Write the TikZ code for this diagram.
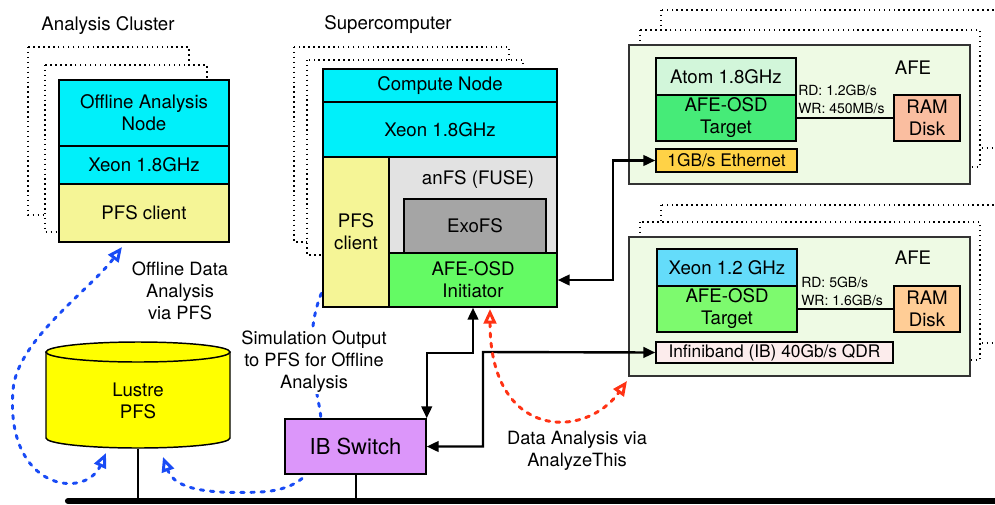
\documentclass[tikz,border=0pt]{standalone}
\usepackage{fontspec}
\setmainfont{TeX Gyre Heros}
\usetikzlibrary{arrows.meta}
\definecolor{cyanc}{RGB}{0,240,250}
\definecolor{pfsy}{RGB}{245,245,150}
\definecolor{anfsg}{RGB}{226,226,226}
\definecolor{exog}{RGB}{165,165,165}
\definecolor{initg}{RGB}{100,250,100}
\definecolor{ibv}{RGB}{220,150,250}
\definecolor{lusy}{RGB}{255,255,0}
\definecolor{afebg}{RGB}{238,250,228}
\definecolor{atomc}{RGB}{210,246,218}
\definecolor{tgta}{RGB}{70,235,120}
\definecolor{rama}{RGB}{250,190,160}
\definecolor{ethc}{RGB}{255,210,70}
\definecolor{xeonb}{RGB}{100,220,250}
\definecolor{tgtb}{RGB}{125,250,110}
\definecolor{ramb}{RGB}{255,205,150}
\definecolor{ibc}{RGB}{252,236,236}
\definecolor{myblue}{RGB}{25,75,245}
\definecolor{myred}{RGB}{255,50,20}
\newcommand\fsMain{\fontsize{14}{16.5}\selectfont}
\newcommand\fsLbl{\fontsize{13.7}{16.5}\selectfont}
\newcommand\fsMid{\fontsize{13}{15}\selectfont}
\newcommand\fsSmall{\fontsize{10.5}{13.5}\selectfont}
\newcommand\fsBig{\fontsize{16.5}{19}\selectfont}
\begin{document}
\begin{tikzpicture}[x=0.75pt,y=-0.75pt,
  box/.style={draw=black, line width=1.1pt, inner sep=0pt, align=center, font=\fsMain},
  wh/.style 2 args={minimum width=#1*0.75pt, minimum height=#2*0.75pt},
  dotbox/.style={draw=black, fill=white, line width=1pt, dash pattern=on 1.1pt off 2.6pt},
  afebox/.style={draw=black!80, line width=1.1pt, fill=afebg, inner sep=0pt},
  conn/.style={draw=black, line width=1.8pt, {Triangle[length=9pt,width=8pt]}-{Triangle[length=9pt,width=8pt]}},
  opentip/.style={Triangle[open,length=11pt,width=9.5pt,line width=1.8pt]},
  bluearr/.style={draw=myblue, line width=2.2pt, line cap=round, dash pattern=on 2.6pt off 5pt, {Triangle[open,length=11pt,width=9.5pt]}-{Triangle[open,length=11pt,width=9.5pt]}},
  bluedash/.style={draw=myblue, line width=2.2pt, line cap=round, dash pattern=on 2.6pt off 5pt, -{Triangle[open,length=11pt,width=9.5pt]}},
  redarr/.style={draw=myred, line width=2.2pt, line cap=round, dash pattern=on 3pt off 4.6pt, {Triangle[open,length=11pt,width=9.5pt]}-{Triangle[open,length=11pt,width=9.5pt]}},
  lbl/.style={align=center, font=\fsLbl, inner sep=1pt},
  wire/.style={draw=black, line width=1.5pt}
]
\useasboundingbox (0,0) rectangle (995,504);

% stacked dotted boxes
\begin{scope}
\clip (0,0) rectangle (995,504);
\draw[dotbox] (28,47) rectangle (189,215);
\draw[dotbox] (45,65) rectangle (207,232);
\draw[dotbox] (294,47) rectangle (509,242);
\draw[dotbox] (307,60) rectangle (523,255);
\draw[dotbox] (661,10) rectangle (1010,148);
\draw[dotbox] (640,30) rectangle (980,167);
\draw[dotbox] (661,205) rectangle (1010,343);
\draw[dotbox] (640,222) rectangle (980,360);
\end{scope}

% titles
\node[font=\fsMain] (acl) at (108,26) {Analysis Cluster};
\node[font=\fsMain] (scl) at (388,25) {Supercomputer};

% bottom bar and Lustre
\coordinate (barL) at (68,501);
\coordinate (barR) at (1000,501);

\fill[lusy] (46,352) -- (46,438) arc[start angle=180, end angle=360, x radius=69pt, y radius=7.5pt] -- (230,352) -- cycle;
\draw[line width=1.1pt] (46,352) -- (46,438) arc[start angle=180, end angle=360, x radius=69pt, y radius=7.5pt] -- (230,352);
\draw[line width=1.1pt, fill=lusy] (138,352) ellipse[x radius=69pt, y radius=7.5pt];
\node[align=center, font=\fsMain] (lustre) at (138,401) {Lustre\\PFS};
\coordinate (lbot) at (138,449);

% simulation output dashed path (behind boxes)
\coordinate (s0) at (330,275);
\coordinate (s1) at (163,457);
\draw[bluedash] (s0) .. controls (305,320) and (310,360) .. (320,410) .. controls (328,470) and (300,490) .. (260,492) .. controls (210,494) and (175,490) .. (s1);
\node[lbl, fill=white] (simlbl) at (314,362) {Simulation Output\\to PFS for Offline\\Analysis};

% Analysis cluster node
\node[box, fill=cyanc, wh={170}{66}] (oan) at (144,113) {Offline Analysis\\Node};
\node[box, fill=cyanc, wh={170}{38}] (xe1) at (144,165) {Xeon 1.8GHz};
\node[box, fill=pfsy, wh={170}{58}] (pfs1) at (144,213) {PFS client};

% Supercomputer node
\node[box, fill=cyanc, wh={234}{33}] (cn) at (440,85.5) {Compute Node};
\node[box, fill=cyanc, wh={234}{55}] (xe2) at (440,129.5) {Xeon 1.8GHz};
\node[box, fill=pfsy, wh={66}{150}] (pfs2) at (356,232) {PFS\\client};
\node[box, fill=anfsg, wh={168}{96}] (anfs) at (473,205) {};
\node[font=\fsMain] (anfst) at (478,180) {anFS (FUSE)};
\node[box, fill=exog, wh={142}{54}] (exo) at (475,226) {ExoFS};
\node[box, fill=initg, wh={168}{54}] (init) at (473,280) {AFE-OSD\\Initiator};

% AFE 1
\node[afebox, wh={341}{139}] (afe1) at (799.5,114.5) {};
\node[font=\fsMain] (afe1t) at (913,68) {AFE};
\node[box, fill=atomc, wh={140}{37}] (atom) at (726,76.5) {Atom 1.8GHz};
\node[box, fill=tgta, wh={140}{46}] (tgt1) at (726,118) {AFE-OSD\\Target};
\node[box, fill=rama, wh={66}{46}] (ram1) at (927,118) {RAM\\Disk};
\draw[line width=0.9pt] (tgt1.east) -- (ram1.west);
\node[anchor=west, align=left, font=\fsSmall, inner sep=0pt] (rw1) at (798,99) {RD: 1.2GB/s\\WR: 450MB/s};
\node[box, fill=ethc, font=\fsMid, wh={141}{23}] (eth) at (726.5,160.5) {1GB/s Ethernet};

% AFE 2
\node[afebox, wh={341}{139}] (afe2) at (799.5,306.5) {};
\node[font=\fsMain] (afe2t) at (913,258) {AFE};
\node[box, fill=xeonb, wh={140}{37}] (xe3) at (727,267.5) {Xeon 1.2 GHz};
\node[box, fill=tgtb, wh={140}{46}] (tgt2) at (727,309) {AFE-OSD\\Target};
\node[box, fill=ramb, wh={66}{46}] (ram2) at (927,309) {RAM\\Disk};
\draw[line width=0.9pt] (tgt2.east) -- (ram2.west);
\node[anchor=west, align=left, font=\fsSmall, inner sep=0pt] (rw2) at (801,291) {RD: 5GB/s\\WR: 1.6GB/s};
\node[box, fill=ibc, font=\fsMid, wh={237}{21}] (ib) at (774.5,352.5) {Infiniband (IB) 40Gb/s QDR};

% IB switch
\node[box, fill=ibv, font=\fsBig, wh={141}{55}] (ibs) at (355.5,446.5) {IB Switch};

% bar and drops
\draw[line width=4.6pt, line cap=round] (barL) -- (barR);
\draw[wire] (lbot) -- (lbot |- barL);
\draw[wire] (ibs.south) -- (ibs.south |- barL);

% black connectors
\coordinate (ja) at (473,353);
\coordinate (jb) at (483,352);
\coordinate (jc) at (613,281);
\draw[conn] (ibs.north east) |- (ja) -- (init.south);
\draw[conn] (ibs.east) -| (jb) -- (ib.west);
\draw[conn] (init.east) -- (init.east -| jc) |- (eth.west);

% red analysis arrow
\coordinate (ra) at (490,309);
\coordinate (rb) at (627,381);
\draw[redarr] (ra) .. controls (490,440) and (585,440) .. (rb);
\node[lbl] (dalbl) at (577,451) {Data Analysis via\\AnalyzeThis};

% offline analysis blue arrow
\coordinate (b0) at (106,453);
\coordinate (b1) at (122,247);
\draw[bluearr] (b0) .. controls (85,500) and (5,490) .. (13,390) .. controls (17,340) and (90,290) .. (b1);
\node[lbl] (offlbl) at (180,291) {Offline Data\\Analysis\\via PFS};
\end{tikzpicture}
\end{document}
